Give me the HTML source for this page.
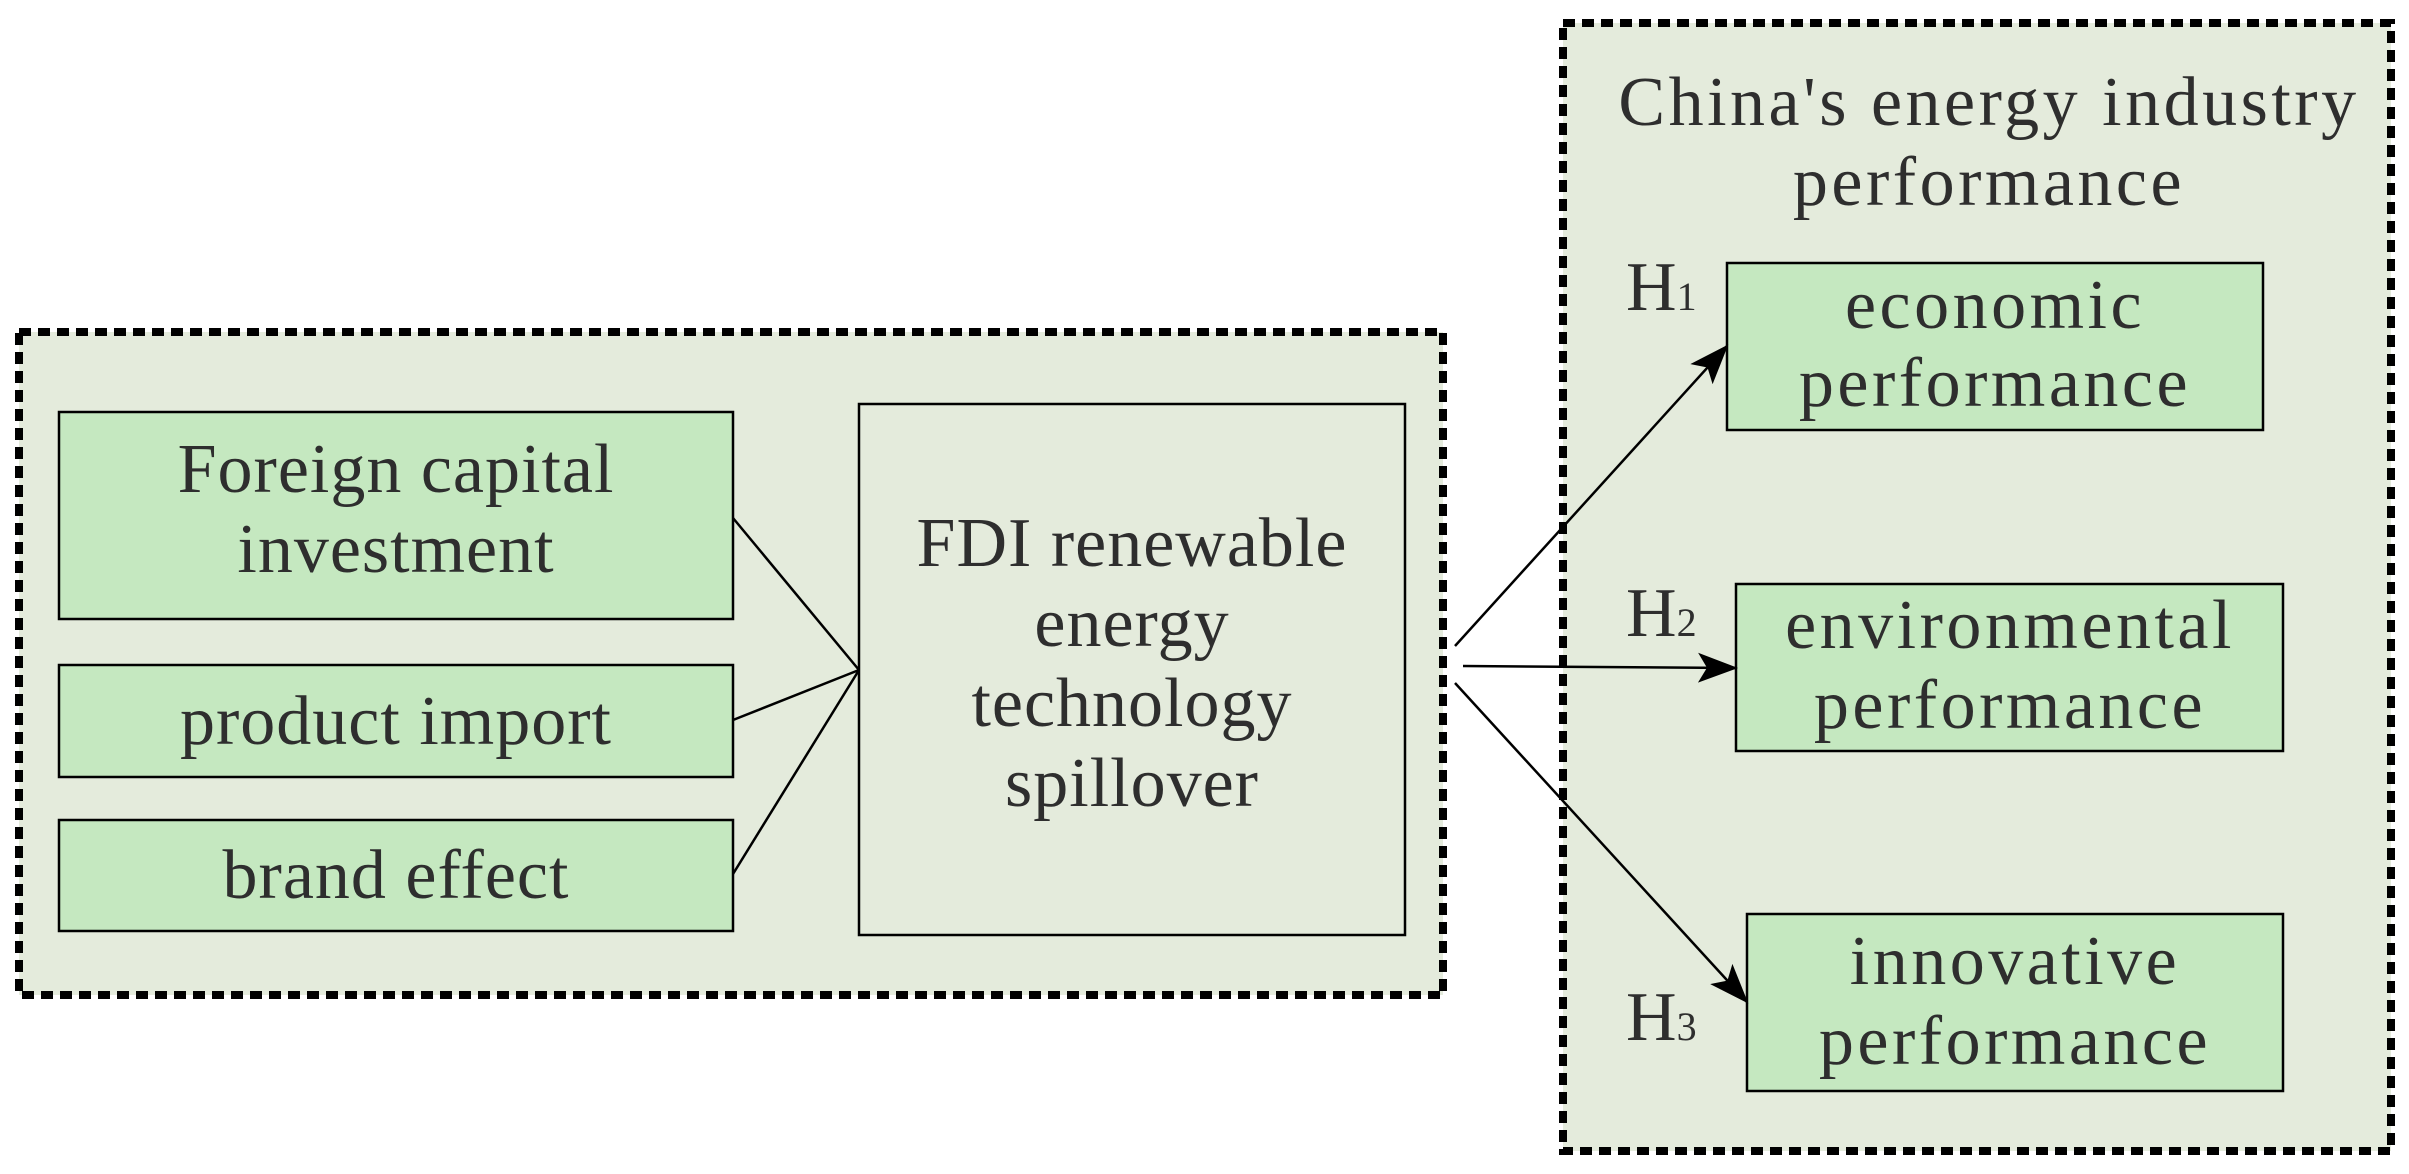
<!DOCTYPE html>
<html><head><meta charset="utf-8"><style>html,body{margin:0;padding:0;background:#fff}svg{display:block}</style></head>
<body>
<svg width="2409" height="1174" viewBox="0 0 2409 1174" xmlns="http://www.w3.org/2000/svg" font-family="'Liberation Serif', serif" fill="#2e2e2e">
<defs>
<marker id="b" viewBox="0 0 40 30" refX="38" refY="15" markerWidth="40" markerHeight="30" orient="auto" markerUnits="userSpaceOnUse"><path d="M0,0 L40,15 L0,30 L9,15 Z" fill="#000"/></marker></defs>
<rect x="19" y="332" width="1424" height="663" fill="#e4ebdc" stroke="#000" stroke-width="8" stroke-dasharray="12 7"/>
<rect x="1563" y="23" width="828" height="1128" fill="#e4ebdc" stroke="#000" stroke-width="8" stroke-dasharray="12 7"/>
<g stroke="#000" stroke-width="2.5">
<rect x="59" y="412" width="674" height="207" fill="#c5e8c0"/>
<rect x="59" y="665" width="674" height="112" fill="#c5e8c0"/>
<rect x="59" y="820" width="674" height="111" fill="#c5e8c0"/>
<rect x="859" y="404" width="546" height="531" fill="#e4ebdc"/>
<rect x="1727" y="263" width="536" height="167" fill="#c5e8c0"/>
<rect x="1736" y="584" width="547" height="167" fill="#c5e8c0"/>
<rect x="1747" y="914" width="536" height="177" fill="#c5e8c0"/>
<line x1="733" y1="518" x2="859" y2="670"/>
<line x1="733" y1="720" x2="859" y2="670"/>
<line x1="733" y1="874" x2="859" y2="670"/>
<line x1="1455" y1="646" x2="1727" y2="346" marker-end="url(#b)"/>
<line x1="1463" y1="666" x2="1736" y2="668" marker-end="url(#b)"/>
<line x1="1455" y1="683" x2="1747" y2="1002" marker-end="url(#b)"/>
</g>
<g font-size="70" text-anchor="middle" letter-spacing="1">
<text x="396" y="492">Foreign capital</text>
<text x="396" y="572">investment</text>
<text x="396" y="744">product import</text>
<text x="396" y="898">brand effect</text>
<text x="1132" y="566">FDI renewable</text>
<text x="1132" y="646">energy</text>
<text x="1132" y="726">technology</text>
<text x="1132" y="806">spillover</text>
<text x="1989" y="125" letter-spacing="3.5">China's energy industry</text>
<text x="1989" y="205" letter-spacing="3.5">performance</text>
<text x="1995" y="328" letter-spacing="3.5">economic</text>
<text x="1995" y="406" letter-spacing="3.5">performance</text>
<text x="2010" y="648" letter-spacing="3.5">environmental</text>
<text x="2010" y="728" letter-spacing="3.5">performance</text>
<text x="2015" y="984" letter-spacing="3.5">innovative</text>
<text x="2015" y="1064" letter-spacing="3.5">performance</text>
</g>
<g font-size="70">
<text x="1626" y="310">H<tspan font-size="40">1</tspan></text>
<text x="1626" y="636">H<tspan font-size="40">2</tspan></text>
<text x="1626" y="1040">H<tspan font-size="40">3</tspan></text>
</g>
</svg>
</body></html>
